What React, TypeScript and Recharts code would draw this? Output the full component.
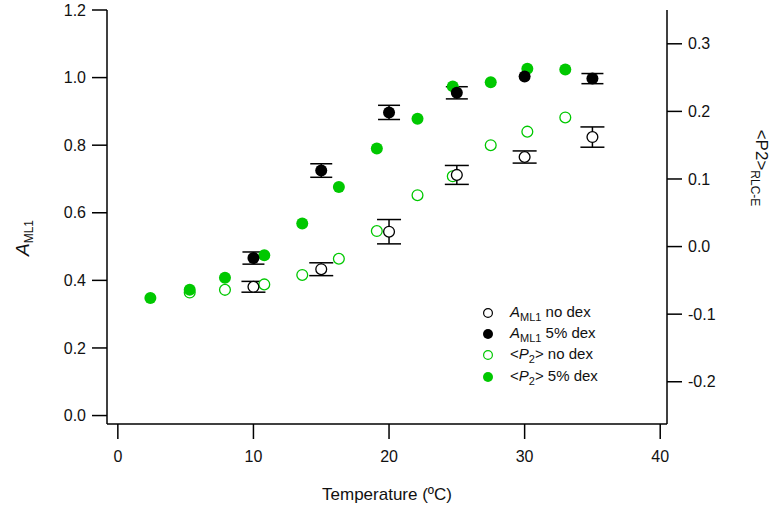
import {
  ErrorBar,
  Scatter,
  ScatterChart,
  XAxis,
  YAxis,
} from 'recharts';

const FONT = '"Liberation Sans", Arial, sans-serif';
const GREEN = '#00c800';

// A_ML1 (left axis), black markers
const amlTemps = [10, 15, 20, 25, 30, 35];
const amlNoDex = [0.381, 0.433, 0.544, 0.712, 0.765, 0.824];
const amlNoDexErr = [0.016, 0.019, 0.036, 0.028, 0.018, 0.03];
const amlDex = [0.466, 0.725, 0.897, 0.955, 1.003, 0.997];
const amlDexErr = [0.018, 0.02, 0.021, 0.018, 0, 0.015];

// <P2> RLC-E (right axis), green markers
const p2DexTemps = [2.4, 5.3, 7.9, 10.8, 13.6, 16.3, 19.1, 22.1, 24.7, 27.5, 30.2, 33.0];
const p2Dex = [-0.076, -0.064, -0.046, -0.013, 0.034, 0.088, 0.145, 0.189, 0.237, 0.243, 0.263, 0.262];
const p2NoDexTemps = [5.3, 7.9, 10.8, 13.6, 16.3, 19.1, 22.1, 24.7, 27.5, 30.2, 33.0];
const p2NoDex = [-0.068, -0.064, -0.056, -0.042, -0.018, 0.023, 0.076, 0.104, 0.15, 0.17, 0.191];

const xTicks = [0, 10, 20, 30, 40];
const leftTicks = [0, 0.2, 0.4, 0.6, 0.8, 1.0, 1.2];
const rightTicks = [-0.2, -0.1, 0, 0.1, 0.2, 0.3];

const toPoints = (xs: number[], ys: number[], errs?: number[]) =>
  xs.map((x, i) => ({ x, y: ys[i], err: errs ? errs[i] : 0 }));

const amlNoDexData = toPoints(amlTemps, amlNoDex, amlNoDexErr);
const amlDexData = toPoints(amlTemps, amlDex, amlDexErr);
const p2NoDexData = toPoints(p2NoDexTemps, p2NoDex);
const p2DexData = toPoints(p2DexTemps, p2Dex);

const marker = (color: string, filled: boolean, r = 6) => (props: any) => (
  <circle
    cx={props.cx}
    cy={props.cy}
    r={filled ? r : r - 0.6}
    fill={filled ? color : '#fff'}
    stroke={color}
    strokeWidth={filled ? 0 : 1.3}
  />
);

const noMarker = () => <g />;

const legendItems = [
  { color: '#000', filled: false, sym: 'A', sub: 'ML1', text: ' no dex', bracket: false },
  { color: '#000', filled: true, sym: 'A', sub: 'ML1', text: ' 5% dex', bracket: false },
  { color: GREEN, filled: false, sym: 'P', sub: '2', text: ' no dex', bracket: true },
  { color: GREEN, filled: true, sym: 'P', sub: '2', text: ' 5% dex', bracket: true },
];

function LegendBox() {
  return (
    <div style={{ position: 'absolute', left: 480, top: 302, fontFamily: FONT, fontSize: 15, color: '#111' }}>
      {legendItems.map((it) => (
        <div key={it.sym + it.text} style={{ display: 'flex', alignItems: 'center', height: 21.3 }}>
          <svg width={18} height={14} style={{ marginRight: 12 }}>
            <circle
              cx={8}
              cy={7}
              r={it.filled ? 5 : 4.4}
              fill={it.filled ? it.color : '#fff'}
              stroke={it.color}
              strokeWidth={it.filled ? 0 : 1.2}
            />
          </svg>
          <span style={{ whiteSpace: 'nowrap' }}>
            {it.bracket ? '<' : ''}
            <i>{it.sym}</i>
            <sub style={{ fontSize: 11 }}>{it.sub}</sub>
            {it.bracket ? '>' : ''}
            {it.text}
          </span>
        </div>
      ))}
    </div>
  );
}

const LeftTitle = () => (
  <text
    x={0}
    y={0}
    transform="translate(29, 238) rotate(-90)"
    textAnchor="middle"
    fontFamily={FONT}
    fontSize={19}
    fill="#111"
  >
    <tspan fontStyle="italic">A</tspan>
    <tspan fontSize={12} dy={4}>ML1</tspan>
  </text>
);

const RightTitle = () => (
  <text
    x={0}
    y={0}
    transform="translate(756, 168) rotate(90)"
    textAnchor="middle"
    fontFamily={FONT}
    fontSize={17}
    fill="#111"
  >
    <tspan>{'<P2>'}</tspan>
    <tspan fontSize={12} dy={5}>RLC-E</tspan>
  </text>
);

export default function App() {
  const tickStyle = { fontFamily: FONT, fontSize: 16, fill: '#111' };
  const axisStroke = { stroke: '#000', strokeWidth: 1.5 };
  return (
    <div style={{ position: 'relative', width: 775, height: 506, background: '#fff' }}>
      <style>{'body{margin:0}'}</style>
      <ScatterChart width={775} height={506} margin={{ top: 10, right: 0, left: 0, bottom: 0 }}>
        <XAxis
          type="number"
          dataKey="x"
          domain={[-0.8, 40.5]}
          ticks={xTicks}
          allowDataOverflow
          height={82}
          tickSize={15}
          tickMargin={12}
          tick={tickStyle}
          axisLine={axisStroke}
          tickLine={axisStroke}
          label={{
            value: 'Temperature (ºC)',
            position: 'insideBottom',
            offset: 6,
            style: { fontFamily: FONT, fontSize: 17, fill: '#111' },
          }}
        />
        <YAxis
          yAxisId="left"
          type="number"
          dataKey="y"
          domain={[-0.025, 1.2]}
          ticks={leftTicks}
          allowDataOverflow
          width={107}
          tickSize={15}
          tickMargin={6}
          tick={tickStyle}
          tickFormatter={(v: number) => v.toFixed(1)}
          axisLine={axisStroke}
          tickLine={axisStroke}
          label={<LeftTitle />}
        />
        <YAxis
          yAxisId="right"
          orientation="right"
          type="number"
          dataKey="y"
          domain={[-0.2625, 0.35]}
          ticks={rightTicks}
          allowDataOverflow
          width={108}
          tickSize={15}
          tickMargin={6}
          tick={tickStyle}
          tickFormatter={(v: number) => v.toFixed(1)}
          axisLine={axisStroke}
          tickLine={axisStroke}
          label={<RightTitle />}
        />
        <Scatter yAxisId="right" data={p2NoDexData} shape={marker(GREEN, false)} isAnimationActive={false} />
        <Scatter yAxisId="right" data={p2DexData} shape={marker(GREEN, true)} isAnimationActive={false} />
        {/* error bars first so the open markers cover them */}
        <Scatter yAxisId="left" data={amlNoDexData} shape={noMarker} isAnimationActive={false}>
          <ErrorBar dataKey="err" direction="y" width={12} stroke="#000" strokeWidth={1.5} />
        </Scatter>
        <Scatter yAxisId="left" data={amlDexData} shape={noMarker} isAnimationActive={false}>
          <ErrorBar dataKey="err" direction="y" width={11} stroke="#000" strokeWidth={1.5} />
        </Scatter>
        <Scatter yAxisId="left" data={amlNoDexData} shape={marker('#000', false)} isAnimationActive={false} />
        <Scatter yAxisId="left" data={amlDexData} shape={marker('#000', true)} isAnimationActive={false} />
      </ScatterChart>
      <LegendBox />
    </div>
  );
}
